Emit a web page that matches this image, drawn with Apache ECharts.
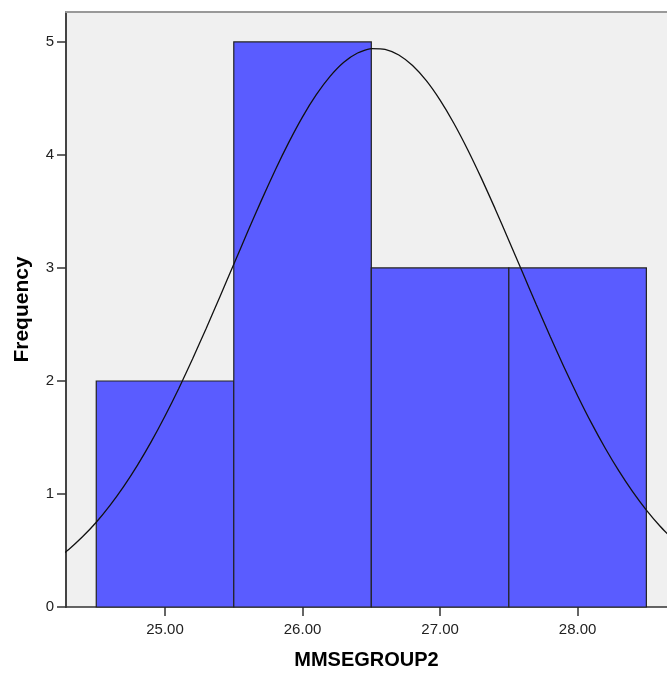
<!DOCTYPE html>
<html>
<head>
<meta charset="utf-8">
<script src="https://cdn.jsdelivr.net/npm/echarts@6/dist/echarts.min.js"></script>
<style>
html, body { margin: 0; padding: 0; background: #fff; }
#chart { width: 667px; height: 675px; }
</style>
</head>
<body>
<div id="chart"></div>
<script>
// histogram bins: [from, to, frequency]
var bin_from = [24.5, 25.5, 26.5, 27.5];
var bin_to = [25.5, 26.5, 27.5, 28.5];
var bin_count = [2, 5, 3, 3];

// normal curve
var curve_x = [24.2, 24.3, 24.4, 24.5, 24.6, 24.7, 24.8, 24.9, 25.0, 25.1,
    25.2, 25.3, 25.4, 25.5, 25.6, 25.7, 25.8, 25.9, 26.0, 26.1,
    26.2, 26.3, 26.4, 26.5, 26.6, 26.7, 26.8, 26.9, 27.0, 27.1,
    27.2, 27.3, 27.4, 27.5, 27.6, 27.7, 27.8, 27.9, 28.0, 28.1,
    28.2, 28.3, 28.4, 28.5, 28.6, 28.7];
var curve_y = [0.413, 0.509, 0.621, 0.750, 0.899, 1.067, 1.255, 1.463, 1.690, 1.934,
    2.195, 2.467, 2.748, 3.033, 3.318, 3.596, 3.863, 4.111, 4.337, 4.533,
    4.695, 4.820, 4.902, 4.941, 4.935, 4.885, 4.791, 4.657, 4.485, 4.281,
    4.049, 3.795, 3.525, 3.244, 2.959, 2.674, 2.395, 2.126, 1.870, 1.629,
    1.407, 1.204, 1.021, 0.858, 0.715, 0.590];

var x_ticks = [25, 26, 27, 28];
var y_ticks = [0, 1, 2, 3, 4, 5];

var bars = [];
for (var i = 0; i < bin_count.length; i++) {
    bars.push([bin_from[i], bin_to[i], bin_count[i]]);
}
var curve = [];
for (var i = 0; i < curve_x.length; i++) {
    curve.push([curve_x[i], curve_y[i]]);
}

var FONT = 'Liberation Sans, Arial, sans-serif';
var chart = echarts.init(document.getElementById('chart'));
var option = {
    animation: false,
    grid: {
        left: 66, right: 0, top: 12, bottom: 68,
        containLabel: false,
        outerBoundsMode: 'none',
        show: true,
        backgroundColor: '#f0f0f0',
        borderWidth: 0
    },
    xAxis: [
        {
            type: 'value',
            min: 24.28,
            max: 28.65,
            name: 'MMSEGROUP2',
            nameLocation: 'middle',
            nameGap: 43,
            nameTextStyle: { fontSize: 20, fontWeight: 'bold', color: '#000', fontFamily: FONT },
            axisLine: { show: true, onZero: false, lineStyle: { color: '#333', width: 1.5 } },
            axisTick: { show: true, length: 9, lineStyle: { color: '#333', width: 1.5 }, customValues: x_ticks },
            axisLabel: {
                customValues: x_ticks,
                margin: 15,
                color: '#222', fontSize: 15, fontFamily: FONT,
                formatter: function (v) { return v.toFixed(2); }
            },
            splitLine: { show: false }
        },
        {
            // top frame line
            type: 'value',
            position: 'top',
            min: 24.28,
            max: 28.65,
            axisLine: { show: true, onZero: false, lineStyle: { color: '#999', width: 2 } },
            axisTick: { show: false },
            axisLabel: { show: false },
            splitLine: { show: false }
        }
    ],
    yAxis: {
        type: 'value',
        min: 0,
        max: 5.265,
        name: 'Frequency',
        nameLocation: 'middle',
        nameGap: 33,
        nameRotate: 90,
        nameTextStyle: { fontSize: 21, fontWeight: 'bold', color: '#000', fontFamily: FONT },
        axisLine: { show: true, lineStyle: { color: '#444', width: 2 } },
        axisTick: { show: true, length: 9, lineStyle: { color: '#333', width: 1.5 }, customValues: y_ticks },
        axisLabel: { customValues: y_ticks, margin: 12, color: '#222', fontSize: 15, fontFamily: FONT },
        splitLine: { show: false }
    },
    series: [
        {
            type: 'custom',
            data: bars,
            encode: { x: [0, 1], y: 2 },
            renderItem: function (params, api) {
                var p0 = api.coord([api.value(0), 0]);
                var p1 = api.coord([api.value(1), api.value(2)]);
                return {
                    type: 'rect',
                    shape: { x: p0[0], y: p1[1], width: p1[0] - p0[0], height: p0[1] - p1[1] },
                    style: { fill: '#5a5cff', stroke: '#222', lineWidth: 1.2 }
                };
            }
        },
        {
            type: 'line',
            data: curve,
            smooth: 0.2,
            showSymbol: false,
            clip: true,
            lineStyle: { color: '#111', width: 1.3 }
        }
    ]
};
chart.setOption(option);
</script>
</body>
</html>
